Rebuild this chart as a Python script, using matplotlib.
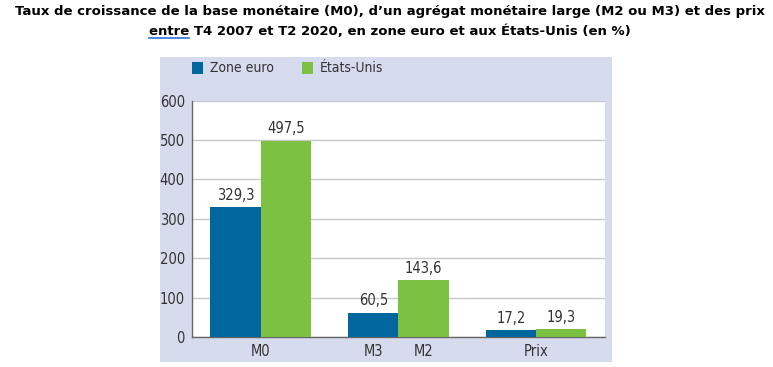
import matplotlib
matplotlib.use("Agg")
import matplotlib.pyplot as plt
import matplotlib.font_manager as fm
from matplotlib.patches import Rectangle
import numpy as np

# data
groups = ["M0", "M2/M3", "Prix"]
zone_euro = [329.3, 60.5, 17.2]
etats_unis = [497.5, 143.6, 19.3]
series_names = ["Zone euro", "États-Unis"]
tick_names = ["M0", "M3", "M2", "Prix"]

blue = "#00679e"
green = "#7dc142"
panel = "#d6dbee"

# look for a condensed face, the original uses a narrow font
narrow = None
for f in fm.fontManager.ttflist:
    n = (f.name + " " + f.fname).lower()
    if ("narrow" in n or "condensed" in n or f.stretch in ("condensed", "semi-condensed")) \
            and f.style == "normal" and f.weight in (400, "normal", "regular") and "bold" not in f.fname.lower():
        narrow = f.fname
        break
if narrow:
    def fp(size):
        return fm.FontProperties(fname=narrow, size=size)
else:
    def fp(size):
        return fm.FontProperties(family="DejaVu Sans", size=size * 0.9)

W, H = 773, 367
fig = plt.figure(figsize=(W / 100, H / 100), dpi=100)
fig.patches.append(Rectangle((160 / W, 5 / H), 452 / W, 305 / H,
                             transform=fig.transFigure, facecolor=panel,
                             edgecolor="none", zorder=-5))

ax = fig.add_axes([0.248, 0.0817, 0.5347, 0.644])
ax.set_zorder(2)
ax.set_facecolor("white")

x = np.arange(len(groups))
w = 0.364
b1 = ax.bar(x - w / 2, zone_euro, w, color=blue, zorder=3)
b2 = ax.bar(x + w / 2, etats_unis, w, color=green, zorder=3)

for bars, vals in [(b1, zone_euro), (b2, etats_unis)]:
    for r, v in zip(bars, vals):
        ax.text(r.get_x() + r.get_width() / 2, v + 12, ("%.1f" % v).replace(".", ","),
                ha="center", va="bottom", fontproperties=fp(10.5), color="#333333")

ax.set_xlim(-0.5, 2.5)
ax.set_ylim(0, 600)
ax.set_yticks(range(0, 601, 100))
ax.set_yticklabels([str(v) for v in range(0, 601, 100)], fontproperties=fp(10.5), color="#333333")
ax.set_xticks([0, 1 - w / 2, 1 + w / 2, 2])
ax.set_xticklabels(tick_names, fontproperties=fp(10.5), color="#333333")
ax.tick_params(length=0, pad=5)
ax.grid(axis="y", color="#c8c8c8", linewidth=1, zorder=0)
for s in ["top", "right"]:
    ax.spines[s].set_visible(False)
for s in ["left", "bottom"]:
    ax.spines[s].set_color("#666666")
    ax.spines[s].set_linewidth(1)

# legend drawn by hand in the panel above the plot
for px, col, name in [(192, blue, series_names[0]), (302, green, series_names[1])]:
    fig.patches.append(Rectangle((px / W, 1 - 74 / H), 11 / W, 12 / H,
                                 transform=fig.transFigure, facecolor=col, edgecolor="none"))
    fig.text((px + 18) / W, 1 - 68 / H, name, ha="left", va="center",
             fontproperties=fp(10), color="#333333")

# title, two lines, "entre" underlined
cx = 390 / W
fig.text(cx, 1 - 11 / H, "Taux de croissance de la base monétaire (M0), d’un agrégat monétaire large (M2 ou M3) et des prix",
         ha="center", va="center", fontsize=9.5, fontweight="bold")
line2 = "entre T4 2007 et T2 2020, en zone euro et aux États-Unis (en %)"
t2 = fig.text(cx, 1 - 31 / H, line2, ha="center", va="center", fontsize=9.5, fontweight="bold")
fig.canvas.draw()
r = fig.canvas.get_renderer()
bb = t2.get_window_extent(r)
tmp = fig.text(0, 0, "entre", fontsize=9.5, fontweight="bold")
wb = tmp.get_window_extent(r)
tmp.remove()
y_ul = (bb.y0 - 0.5) / fig.bbox.height
fig.add_artist(plt.Line2D([bb.x0 / fig.bbox.width, (bb.x0 + wb.width) / fig.bbox.width],
                          [y_ul, y_ul], transform=fig.transFigure, color="#2f6fdc", linewidth=1.2))

fig.savefig("out.png", dpi=100)
